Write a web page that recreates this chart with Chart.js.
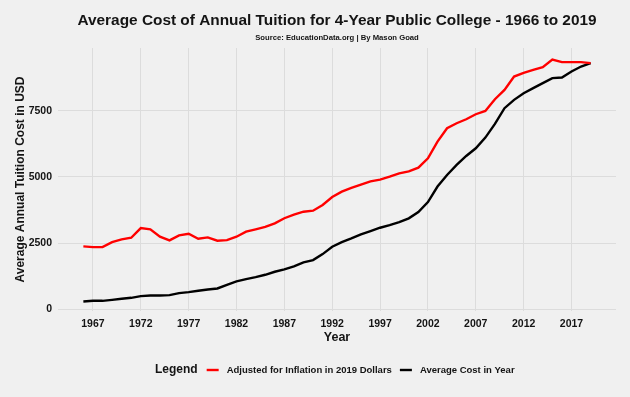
<!DOCTYPE html>
<html>
<head>
<meta charset="utf-8">
<script src="https://cdn.jsdelivr.net/npm/chart.js@4"></script>
<style>
  body { margin: 0; background: #f0f0f0; }
  canvas { display: block; }
</style>
</head>
<body>
<canvas id="myChart" width="630" height="397"></canvas>
<script>
var years = [1966, 1967, 1968, 1969, 1970, 1971, 1972, 1973, 1974, 1975,
  1976, 1977, 1978, 1979, 1980, 1981, 1982, 1983, 1984, 1985,
  1986, 1987, 1988, 1989, 1990, 1991, 1992, 1993, 1994, 1995,
  1996, 1997, 1998, 1999, 2000, 2001, 2002, 2003, 2004, 2005,
  2006, 2007, 2008, 2009, 2010, 2011, 2012, 2013, 2014, 2015,
  2016, 2017, 2018, 2019];

// adjusted for inflation in 2019 dollars
var adjusted = [2375, 2348, 2348, 2538, 2640, 2702, 3068, 3018, 2740, 2600,
  2790, 2853, 2663, 2715, 2588, 2613, 2740, 2930, 3018, 3110,
  3245, 3440, 3573, 3687, 3725, 3940, 4242, 4445, 4584, 4710,
  4836, 4900, 5013, 5140, 5215, 5353, 5706, 6340, 6843, 7033,
  7184, 7374, 7500, 7942, 8295, 8800, 8939, 9053, 9154, 9444,
  9345, 9345, 9345, 9307];

// average cost in that year
var actual = [290, 315, 315, 353, 391, 429, 492, 518, 518, 530,
  606, 644, 694, 745, 783, 922, 1048, 1136, 1212, 1300,
  1414, 1503, 1617, 1768, 1856, 2083, 2361, 2538, 2677, 2828,
  2955, 3080, 3182, 3295, 3435, 3674, 4050, 4640, 5076, 5455,
  5796, 6087, 6490, 7008, 7603, 7917, 8170, 8360, 8549, 8739,
  8763, 8990, 9180, 9307];

var yearTicks = [1967, 1972, 1977, 1982, 1987, 1992, 1997, 2002, 2007, 2012, 2017];
var costTicks = [0, 2500, 5000, 7500];

var seriesNames = ["Adjusted for Inflation in 2019 Dollars", "Average Cost in Year"];
var seriesColors = ["#ff0000", "#000000"];

var FONT = "'Liberation Sans', Arial, sans-serif";
var TEXT = "#141414";

function points(vals) {
  return years.map(function (y, i) { return { x: y, y: vals[i] }; });
}

// title, subtitle and the bottom legend
var decor = {
  id: "decor",
  afterDraw: function (chart) {
    var ctx = chart.ctx;
    var area = chart.chartArea;
    var cx = (area.left + area.right) / 2;
    ctx.save();
    ctx.fillStyle = TEXT;
    ctx.textAlign = "center";
    ctx.textBaseline = "middle";
    ctx.font = "bold 15.4px " + FONT;
    ctx.fillText("Average Cost of Annual Tuition for 4-Year Public College - 1966 to 2019", cx, 21);
    ctx.font = "bold 7.7px " + FONT;
    ctx.fillText("Source: EducationData.org | By Mason Goad", cx, 38);

    // legend
    var ly = 370;
    ctx.textAlign = "left";
    ctx.font = "bold 12px " + FONT;
    var x = 155;
    ctx.fillText("Legend", x, ly);
    x += ctx.measureText("Legend").width + 9;
    ctx.font = "bold 9.5px " + FONT;
    chart.data.datasets.forEach(function (ds) {
      ctx.strokeStyle = ds.borderColor;
      ctx.lineWidth = 2.4;
      ctx.beginPath();
      ctx.moveTo(x, ly);
      ctx.lineTo(x + 12, ly);
      ctx.stroke();
      x += 20;
      ctx.fillText(ds.label, x, ly);
      x += ctx.measureText(ds.label).width + 8;
    });
    ctx.restore();
  }
};

var ctx = document.getElementById("myChart").getContext("2d");
var chart = new Chart(ctx, {
  type: "line",
  data: {
    datasets: [
      {
        label: seriesNames[0],
        data: points(adjusted),
        borderColor: seriesColors[0],
        borderWidth: 2.4,
        pointRadius: 0,
        tension: 0,
        fill: false
      },
      {
        label: seriesNames[1],
        data: points(actual),
        borderColor: seriesColors[1],
        borderWidth: 2.4,
        pointRadius: 0,
        tension: 0,
        fill: false
      }
    ]
  },
  options: {
    responsive: false,
    animation: false,
    layout: { padding: { left: 0, right: 14, top: 48, bottom: 52 } },
    plugins: {
      legend: { display: false },
      title: { display: false },
      tooltip: { enabled: false }
    },
    scales: {
      x: {
        type: "linear",
        min: 1963.35,
        max: 2021.65,
        afterBuildTicks: function (s) { s.ticks = yearTicks.map(function (v) { return { value: v }; }); },
        afterFit: function (s) { s.height = 34; },
        grid: { color: "#dcdcdc", lineWidth: 1, drawTicks: false },
        border: { display: false },
        ticks: {
          padding: 7,
          color: TEXT,
          maxRotation: 0,
          autoSkip: false,
          font: { family: FONT, size: 10.5, weight: "bold" },
          callback: function (v) { return String(v); }
        },
        title: {
          display: true,
          text: "Year",
          color: TEXT,
          padding: { top: 0, bottom: 0 },
          font: { family: FONT, size: 12.5, weight: "bold" }
        }
      },
      y: {
        min: -70,
        max: 9880,
        afterBuildTicks: function (s) { s.ticks = costTicks.map(function (v) { return { value: v }; }); },
        afterFit: function (s) { s.width = 58; },
        grid: { color: "#dcdcdc", lineWidth: 1, drawTicks: false },
        border: { display: false },
        ticks: {
          padding: 6,
          color: TEXT,
          font: { family: FONT, size: 10.5, weight: "bold" },
          callback: function (v) { return String(v); }
        },
        title: {
          display: true,
          text: "Average Annual Tuition Cost in USD",
          color: TEXT,
          padding: { top: 13, bottom: 0 },
          font: { family: FONT, size: 12, weight: "bold" }
        }
      }
    }
  },
  plugins: [decor]
});
</script>
</body>
</html>
